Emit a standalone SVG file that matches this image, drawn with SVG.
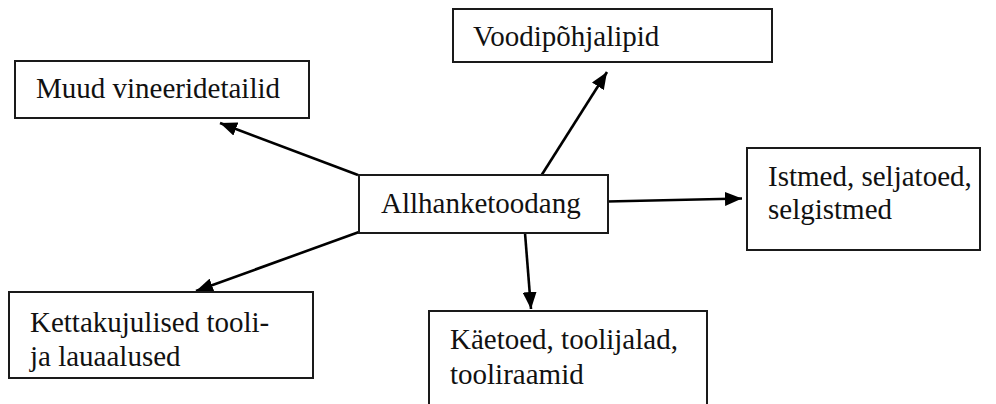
<svg xmlns="http://www.w3.org/2000/svg" width="996" height="404" viewBox="0 0 996 404">
  <style>
    .box { fill: #ffffff; stroke: #1a1a1a; stroke-width: 2; }
    .lbl { font-family: 'Liberation Serif', 'Times New Roman', serif; font-size: 29px; fill: #111111; }
    .link { stroke: #000000; stroke-width: 2.6; fill: none; marker-end: url(#head); }
  </style>
  <defs>
    <!-- filled triangular arrowhead, fixed size in user units -->
    <marker id="head" markerUnits="userSpaceOnUse" markerWidth="18" markerHeight="14" refX="17" refY="7" orient="auto">
      <path d="M0,0 L17,7 L0,14 Z" fill="#000000"/>
    </marker>
  </defs>
  <rect width="996" height="404" fill="#ffffff"/>

  <!-- arrows from the central box outwards -->
  <g id="connectors">
    <line class="link" x1="358" y1="175" x2="220" y2="123"/>
    <line class="link" x1="541" y1="176" x2="607" y2="72"/>
    <line class="link" x1="607" y1="201.5" x2="742" y2="198.5"/>
    <line class="link" x1="525" y1="233" x2="531" y2="309"/>
    <line class="link" x1="359" y1="232" x2="196" y2="291"/>
  </g>

  <g id="allhanketoodang">
    <rect class="box" x="359" y="175" width="249" height="58"/>
    <text class="lbl" x="381" y="213">Allhanketoodang</text>
  </g>

  <g id="muud-vineeridetailid">
    <rect class="box" x="15" y="61" width="294" height="57"/>
    <text class="lbl" x="36" y="98">Muud vineeridetailid</text>
  </g>

  <g id="voodipohjalipid">
    <rect class="box" x="453" y="9" width="319" height="53"/>
    <text class="lbl" x="473" y="46">Voodipõhjalipid</text>
  </g>

  <g id="istmed">
    <rect class="box" x="747" y="148" width="233" height="102"/>
    <text class="lbl" x="768" y="186">Istmed, seljatoed,</text>
    <text class="lbl" x="768" y="219">selgistmed</text>
  </g>

  <g id="kettakujulised">
    <rect class="box" x="9" y="292" width="304" height="86"/>
    <text class="lbl" x="30" y="332">Kettakujulised tooli-</text>
    <text class="lbl" x="30" y="366">ja lauaalused</text>
  </g>

  <g id="kaetoed">
    <rect class="box" x="429" y="311" width="278" height="100"/>
    <text class="lbl" x="450" y="349">Käetoed, toolijalad,</text>
    <text class="lbl" x="450" y="384">tooliraamid</text>
  </g>
</svg>
